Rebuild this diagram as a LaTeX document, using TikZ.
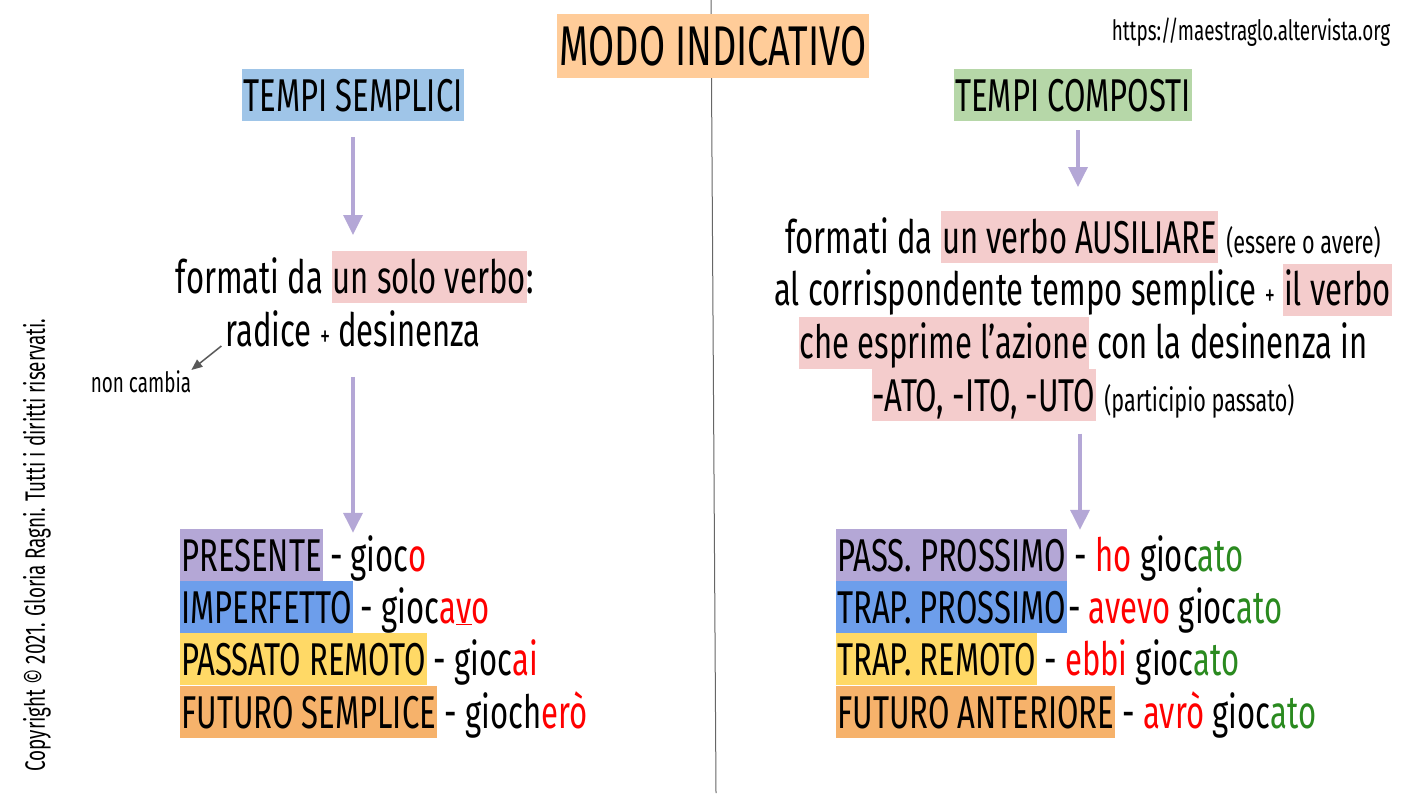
\documentclass[tikz,border=0pt]{standalone}
\usepackage{fontspec}
\setmainfont{Fira Sans}[FakeStretch=0.675]
\usetikzlibrary{arrows.meta,positioning}

\definecolor{hdorange}{HTML}{FFCC99}
\definecolor{hdblue}{HTML}{9FC5E8}
\definecolor{hdgreen}{HTML}{B6D7A8}
\definecolor{hlpink}{HTML}{F4CCCC}
\definecolor{tpurple}{HTML}{B4A7D6}
\definecolor{tblue}{HTML}{6D9EEB}
\definecolor{tyellow}{HTML}{FFD966}
\definecolor{torange}{HTML}{F6B26B}
\definecolor{okgreen}{HTML}{2A8A1F}

\newcommand{\hl}[1]{{\setlength{\fboxsep}{0pt}\colorbox{hlpink}{\rule[-10pt]{0pt}{52pt}\kern1pt#1\kern1pt}}}
\newcommand{\rd}[1]{\textcolor{red}{#1}}
\newcommand{\gr}[1]{\textcolor{okgreen}{#1}}

\tikzstyle{tense}=[anchor=west, inner xsep=1pt, inner ysep=0pt, text height=42pt, text depth=10pt, font=\fontsize{46}{52}\selectfont]

\begin{document}
\begin{tikzpicture}[x=1pt, y=-1pt, big/.style = {font=\fontsize{46}{52.7}\selectfont, inner sep=0pt}, small/.style = {font=\fontsize{28}{32}\selectfont}, ar/.style = {draw=tpurple, line width=3.5pt, -{Triangle[width=19pt,length=20pt]}}]
    \useasboundingbox (0,0) rectangle (1415,793);
    \coordinate (top) at (711,0);
    \coordinate (bot) at (716,793);
    \draw[black!60, line width=1pt] (top) -- (bot);

    % titles
    \node (titolo) [fill=hdorange, inner xsep=3pt, inner ysep=0pt, text height=51pt, text depth=13pt, font=\fontsize{56}{60}\selectfont] at (713,46) {MODO INDICATIVO};
    \node (sito) [small] at (1251,32) {https://maestraglo.altervista.org};
    \node (semplici) [tense, anchor=center, fill=hdblue] at (353,95) {TEMPI SEMPLICI};
    \node (composti) [tense, anchor=center, fill=hdgreen] at (1073,95) {TEMPI COMPOSTI};

    % left side
    \node (formatiL) [big, anchor=north] at (355,251) {formati da \hl{un solo verbo}:};
    \node (radice) [big, anchor=base] at (353,346) {radice {\fontsize{30}{30}\selectfont+} desinenza};
    \node (nc) [small, inner sep=0pt, anchor=base] at (141,392) {non cambia};

    \node (pres) [tense, fill=tpurple] at (180,555) {PRESENTE};
    \node (presx) [tense, right=6pt of pres] {- gioc\rd{o}};
    \node (imp) [tense, fill=tblue] at (180,607) {IMPERFETTO};
    \node (impx) [tense, right=6pt of imp] {- gioc\rd{a\underline{v}o}};
    \node (pr) [tense, fill=tyellow] at (180,659) {PASSATO REMOTO};
    \node (prx) [tense, right=6pt of pr] {- gioc\rd{ai}};
    \node (fs) [tense, fill=torange] at (180,712) {FUTURO SEMPLICE};
    \node (fsx) [tense, right=6pt of fs] {- gioch\rd{erò}};

    % right side
    \node (formatiR) [big, anchor=north, align=center] at (1083,211) {formati da \hl{un verbo AUSILIARE} {\fontsize{32}{32}\selectfont(essere o avere)}\\
      al corrispondente tempo semplice {\fontsize{30}{30}\selectfont+} \hl{il verbo}\\
      \hl{che esprime l’azione} con la desinenza in\\
      \hl{-ATO, -ITO, -UTO} {\fontsize{32}{32}\selectfont(participio passato)}};

    \node (pp) [tense, fill=tpurple] at (836,555) {PASS. PROSSIMO};
    \node (ppx) [tense, right=6pt of pp] {- \rd{ho} gioc\gr{ato}};
    \node (tp) [tense, fill=tblue] at (836,607) {TRAP. PROSSIMO};
    \node (tpx) [tense, right=0pt of tp] {- \rd{avevo} gioc\gr{ato}};
    \node (tr) [tense, fill=tyellow] at (836,659) {TRAP. REMOTO};
    \node (trx) [tense, right=6pt of tr] {- \rd{ebbi} gioc\gr{ato}};
    \node (fa) [tense, fill=torange] at (836,712) {FUTURO ANTERIORE};
    \node (fax) [tense, right=6pt of fa] {- \rd{avrò} gioc\gr{ato}};

    \node (copy) [small, rotate=90] at (37,545) {Copyright © 2021. Gloria Ragni. Tutti i diritti riservati.};

    % arrows
    \draw[ar, shorten <=16pt, shorten >=16pt] (semplici.south) -- (semplici.south |- formatiL.north);
    \draw[ar, shorten <=30pt, shorten >=-4pt] (radice.south) -- (radice.south |- pres.north);
    \draw[ar, shorten <=9pt, shorten >=24pt] ([xshift=5pt]composti.south) -- ([xshift=5pt]composti.south |- formatiR.north);
    \draw[ar, shorten <=12pt, shorten >=-1pt] ([xshift=-3pt]formatiR.south) -- ([xshift=-3pt]formatiR.south |- pp.north);
    \draw[black!65, line width=1.5pt, -{Triangle[width=9pt,length=11pt]}] ([xshift=-4pt]radice.base west) -- (nc.north east);
\end{tikzpicture}
\end{document}
